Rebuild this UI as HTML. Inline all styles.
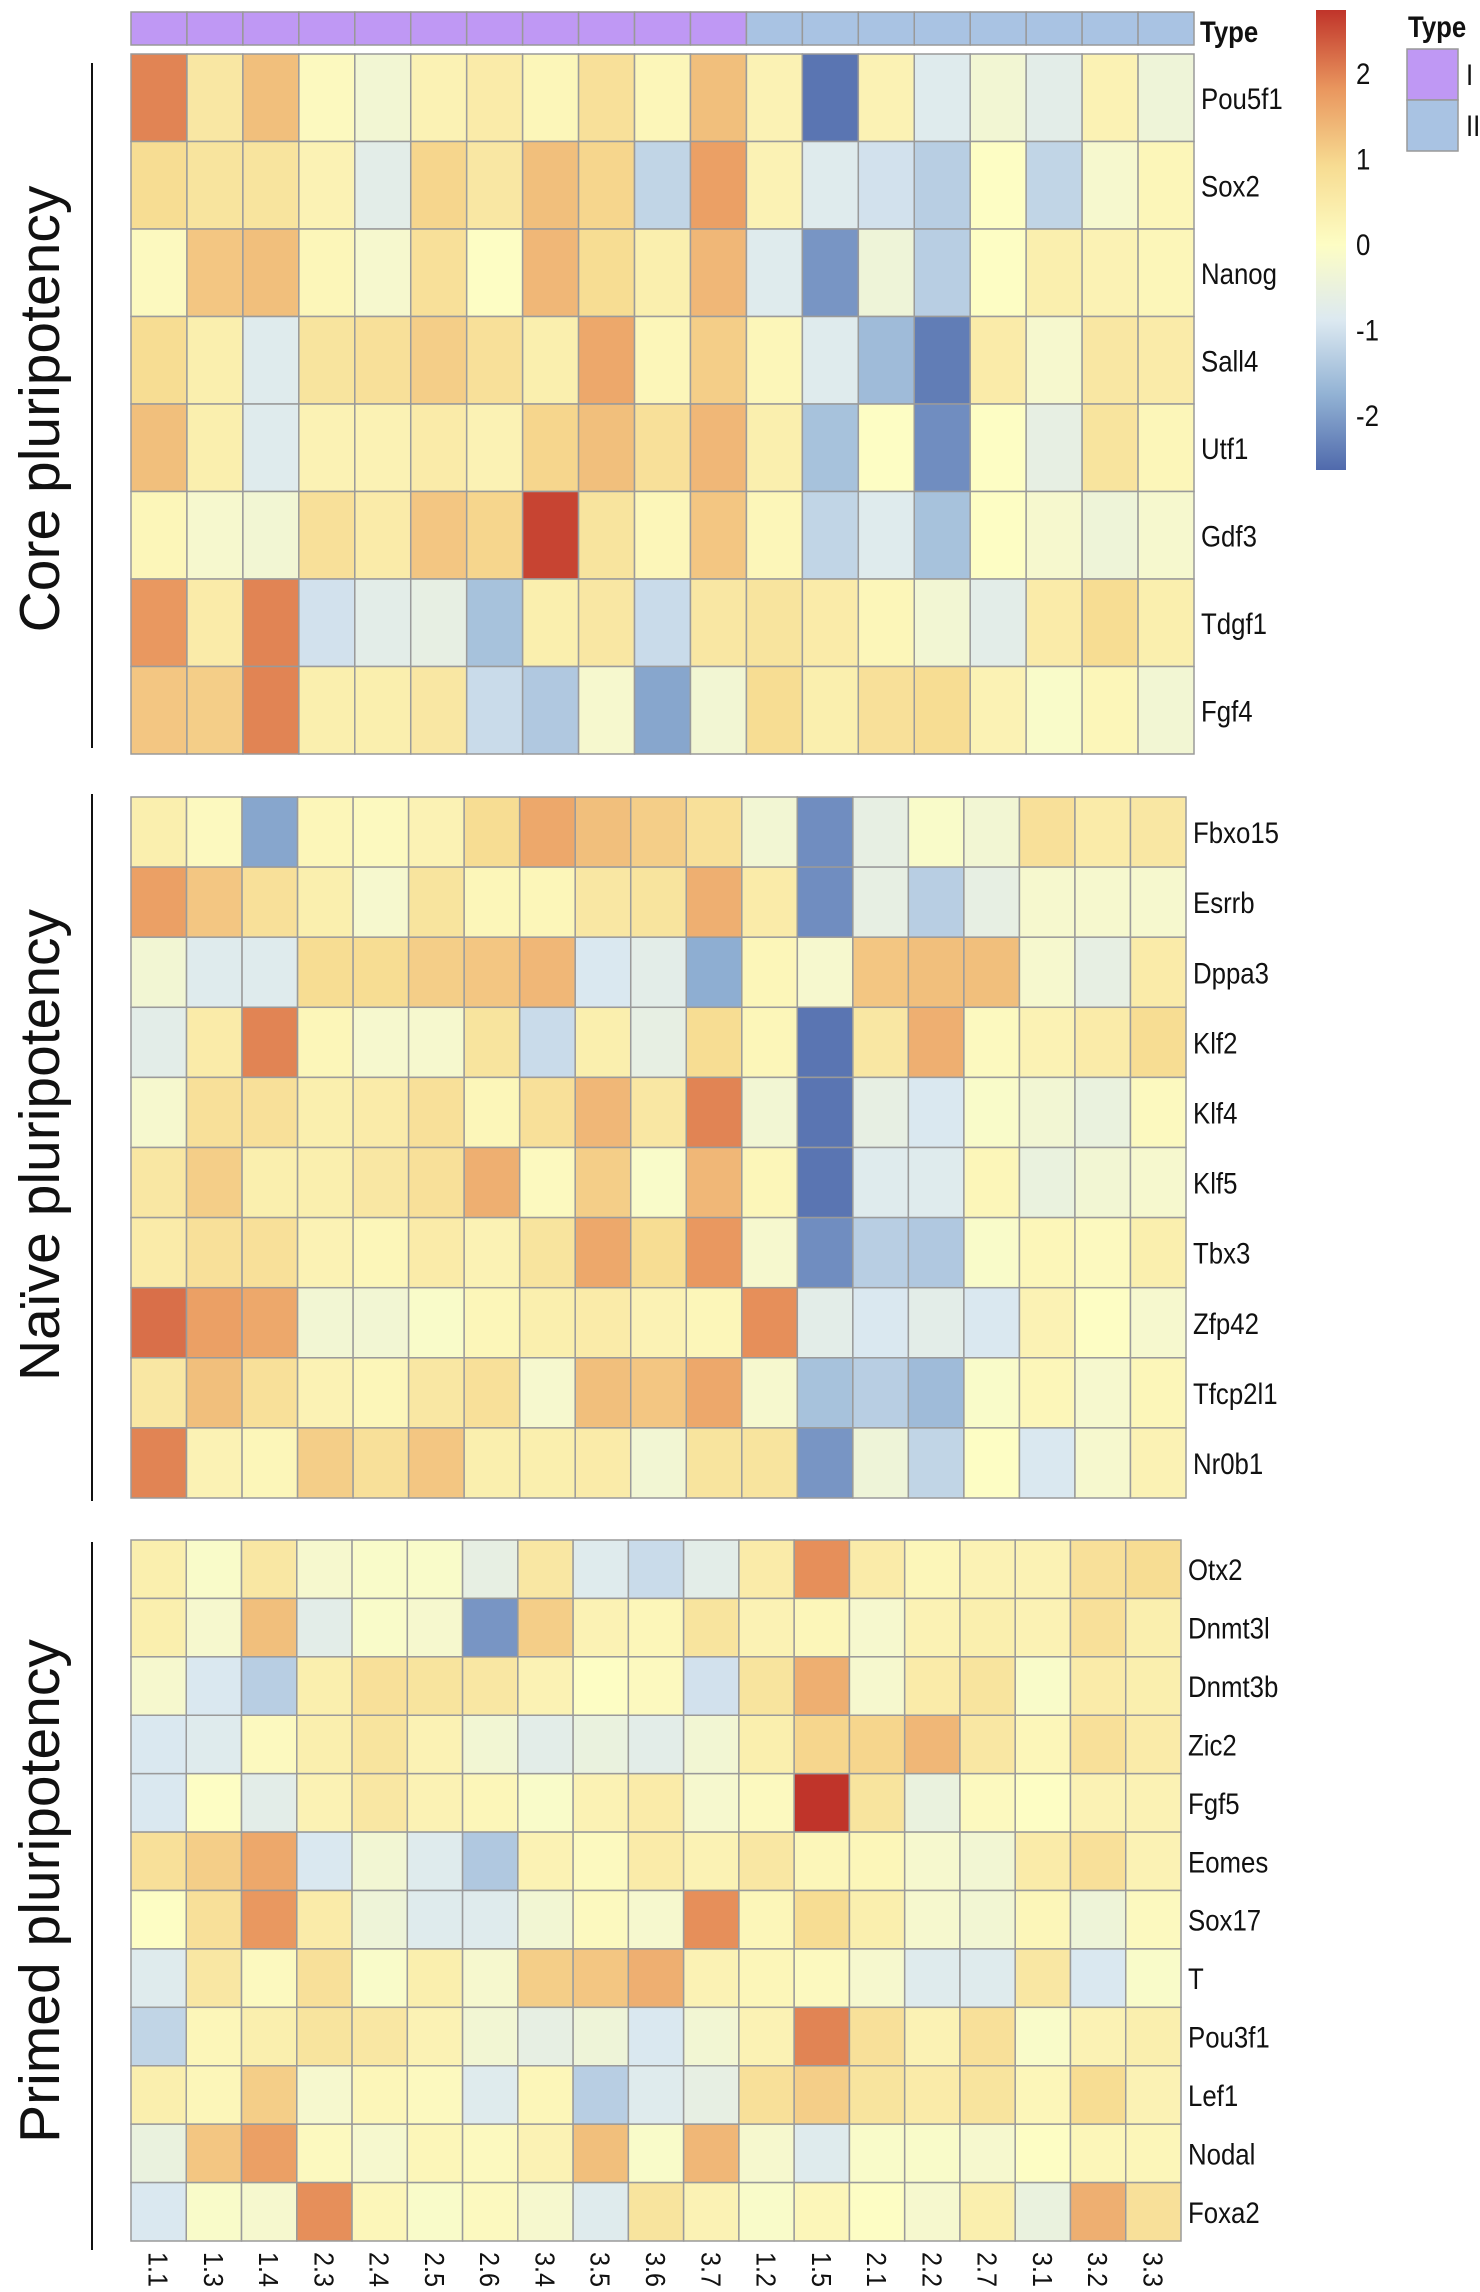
<!DOCTYPE html>
<html><head><meta charset="utf-8"><style>
html,body{margin:0;padding:0;background:#fff;}
svg{display:block;}
</style></head><body>
<svg id="chart" width="1480" height="2292" xmlns="http://www.w3.org/2000/svg"></svg>
<script>
const samples = ["1.1","1.3","1.4","2.3","2.4","2.5","2.6","3.4","3.5","3.6","3.7","1.2","1.5","2.1","2.2","2.7","3.1","3.2","3.3"];
const sampleTypes = ["I","I","I","I","I","I","I","I","I","I","I","II","II","II","II","II","II","II","II"];
const coreGenes = ["Pou5f1","Sox2","Nanog","Sall4","Utf1","Gdf3","Tdgf1","Fgf4"];
const coreValues = [
[2.0,0.6,1.3,0.1,-0.3,0.3,0.5,0.2,0.8,0.2,1.3,0.3,-2.5,0.3,-0.8,-0.3,-0.7,0.3,-0.4],
[0.9,0.7,0.7,0.3,-0.7,1.0,0.6,1.3,1.0,-1.2,1.7,0.3,-0.8,-1.0,-1.3,0.0,-1.2,-0.2,0.2],
[0.1,1.2,1.3,0.2,-0.2,0.8,0.0,1.4,0.9,0.4,1.4,-0.8,-2.1,-0.4,-1.3,0.0,0.4,0.3,0.2],
[0.9,0.4,-0.8,0.7,0.8,1.1,0.8,0.4,1.6,0.2,1.1,0.2,-0.8,-1.6,-2.4,0.5,-0.2,0.6,0.5],
[1.3,0.4,-0.8,0.3,0.3,0.5,0.3,1.0,1.3,0.8,1.4,0.4,-1.5,0.0,-2.2,0.0,-0.6,0.7,0.2],
[0.2,-0.2,-0.3,0.8,0.5,1.2,1.0,2.6,0.7,0.2,1.2,0.2,-1.2,-0.8,-1.5,0.0,-0.2,-0.4,-0.2],
[1.8,0.5,2.0,-1.0,-0.7,-0.6,-1.5,0.4,0.6,-1.1,0.6,0.7,0.5,0.2,-0.3,-0.7,0.5,0.9,0.4],
[1.2,1.1,2.0,0.4,0.4,0.6,-1.1,-1.4,-0.2,-1.9,-0.3,0.9,0.4,0.8,0.9,0.3,-0.1,0.2,-0.3]];
const naiveGenes = ["Fbxo15","Esrrb","Dppa3","Klf2","Klf4","Klf5","Tbx3","Zfp42","Tfcp2l1","Nr0b1"];
const naiveValues = [
[0.4,0.1,-1.9,0.2,0.1,0.3,0.9,1.6,1.3,1.1,0.8,-0.3,-2.2,-0.6,-0.1,-0.3,0.8,0.5,0.6],
[1.7,1.2,0.8,0.4,-0.2,0.7,0.2,0.2,0.6,0.7,1.5,0.5,-2.2,-0.6,-1.3,-0.6,-0.2,-0.2,-0.2],
[-0.3,-0.8,-0.8,0.9,0.9,1.1,1.2,1.4,-0.9,-0.7,-1.8,0.2,-0.2,1.2,1.3,1.3,-0.2,-0.6,0.5],
[-0.7,0.5,2.0,0.2,-0.2,-0.2,0.7,-1.1,0.4,-0.6,0.9,0.2,-2.5,0.6,1.5,0.1,0.3,0.5,0.9],
[-0.2,0.8,0.8,0.4,0.5,0.8,0.2,0.8,1.4,0.6,2.0,-0.3,-2.5,-0.6,-0.9,-0.1,-0.3,-0.5,0.1],
[0.6,1.1,0.4,0.4,0.6,0.8,1.5,0.1,1.1,-0.1,1.4,0.2,-2.5,-0.8,-0.8,0.2,-0.5,-0.3,-0.2],
[0.5,0.8,0.8,0.3,0.2,0.5,0.3,0.7,1.6,0.9,1.8,-0.2,-2.2,-1.3,-1.4,-0.1,0.2,0.1,0.4],
[2.2,1.7,1.6,-0.3,-0.3,-0.1,0.2,0.4,0.5,0.3,0.2,1.9,-0.7,-0.9,-0.7,-0.9,0.3,0.0,-0.2],
[0.6,1.3,0.8,0.3,0.2,0.6,0.8,-0.2,1.3,1.2,1.6,-0.2,-1.5,-1.3,-1.6,-0.1,0.2,-0.2,0.2],
[2.0,0.3,0.2,1.1,0.8,1.2,0.4,0.4,0.5,-0.3,0.7,0.7,-2.1,-0.4,-1.2,0.0,-0.9,-0.2,0.3]];
const primedGenes = ["Otx2","Dnmt3l","Dnmt3b","Zic2","Fgf5","Eomes","Sox17","T","Pou3f1","Lef1","Nodal","Foxa2"];
const primedValues = [
[0.4,-0.1,0.6,-0.2,-0.1,-0.1,-0.6,0.6,-0.8,-1.1,-0.7,0.5,1.9,0.5,0.2,0.3,0.3,0.8,0.9],
[0.4,-0.2,1.3,-0.7,-0.1,-0.2,-2.1,1.1,0.3,0.2,0.7,0.3,0.2,-0.2,0.3,0.4,0.3,0.8,0.4],
[-0.2,-0.9,-1.3,0.4,0.8,0.7,0.6,0.3,0.0,0.1,-1.0,0.7,1.5,-0.2,0.5,0.7,-0.1,0.5,0.4],
[-0.9,-0.8,0.1,0.4,0.7,0.3,-0.3,-0.7,-0.5,-0.7,-0.3,0.4,1.0,1.0,1.4,0.6,0.2,0.8,0.5],
[-0.9,0.0,-0.7,0.3,0.6,0.3,0.2,-0.1,0.3,0.5,-0.2,0.1,2.8,0.7,-0.5,0.1,0.0,0.3,0.3],
[0.8,1.1,1.6,-0.9,-0.3,-0.8,-1.4,0.3,0.1,0.5,0.3,0.6,0.2,0.2,-0.2,-0.3,0.5,0.8,0.3],
[0.0,0.8,1.8,0.5,-0.4,-0.8,-0.8,-0.3,0.1,-0.2,1.9,0.2,0.9,0.4,-0.2,-0.3,0.2,-0.4,0.1],
[-0.8,0.6,0.1,0.8,-0.1,0.4,-0.2,1.1,1.2,1.5,0.3,0.2,0.1,-0.2,-0.8,-0.8,0.6,-0.9,-0.1],
[-1.2,0.2,0.4,0.7,0.6,0.3,-0.3,-0.6,-0.4,-0.9,-0.3,0.3,2.0,0.8,0.3,0.8,-0.1,0.3,0.4],
[0.4,0.2,1.1,-0.2,0.2,0.1,-0.8,0.2,-1.3,-0.8,-0.6,0.8,1.1,0.7,0.5,0.7,0.2,0.9,0.3],
[-0.5,1.2,1.7,0.1,-0.2,0.2,0.1,0.3,1.3,-0.1,1.4,-0.2,-0.8,-0.1,-0.1,-0.2,0.0,0.2,0.2],
[-0.9,-0.1,-0.2,1.9,0.2,-0.1,0.1,-0.2,-0.8,0.7,0.3,-0.1,0.2,0.0,-0.2,0.4,-0.5,1.5,0.8]];
const colorTicks = [2,1,0,-1,-2];

const NS="http://www.w3.org/2000/svg";
const svg=document.getElementById('chart');
function mk(tag,attrs,parent){const e=document.createElementNS(NS,tag);for(const k in attrs)e.setAttribute(k,attrs[k]);(parent||svg).appendChild(e);return e;}
const vmin=-2.63,vmax=2.75;
const stops=[[-2.63,[80,106,172]],[-1.75,[146,178,212]],[-0.88,[220,233,241]],[0,[253,253,196]],[0.92,[247,220,146]],[1.83,[233,150,94]],[2.75,[192,52,42]]];
function color(v){v=Math.max(vmin,Math.min(vmax,v));for(let i=0;i<stops.length-1;i++){const a=stops[i],b=stops[i+1];if(v<=b[0]){const t=(v-a[0])/(b[0]-a[0]);const c=a[1].map((x,j)=>Math.round(x+(b[1][j]-x)*t));return `rgb(${c[0]},${c[1]},${c[2]})`;}}return 'rgb(192,52,42)';}
const FONT='"Liberation Sans Narrow","Liberation Sans",Arial,sans-serif';
const typeColor={"I":"#bf98f4","II":"#a9c3e3"};

const x0=131,x1=1194;
const cwTop=(x1-x0)/samples.length;
samples.forEach((s,i)=>{
  const r=mk('rect',{x:x0+i*cwTop,y:12,width:cwTop,height:33,fill:typeColor[sampleTypes[i]],stroke:'#999','stroke-width':1.5});
  
  
});
const tl=mk('text',{x:0,y:0,transform:'translate(1200,42) scale(0.86,1)','font-family':FONT,'font-size':30,'font-weight':'bold',fill:'#111'});tl.textContent='Type';


function block(name,genes,values,yTop,yBot,xR,label,lineY0,lineY1,labelY){
  const g=mk('g',{});
  
  const cw=(xR-x0)/samples.length, rh=(yBot-yTop)/genes.length;
  values.forEach((row,r)=>{row.forEach((v,c)=>{
    const e=mk('rect',{x:x0+c*cw,y:yTop+r*rh,width:cw,height:rh,fill:color(v),stroke:'#9a9a9a','stroke-width':1.5},g);
    
    
  });});
  genes.forEach((gn,r)=>{
    const t=mk('text',{x:0,y:0,transform:`translate(${xR+7},${yTop+r*rh+rh/2+11}) scale(0.86,1)`,'font-family':FONT,'font-size':30,fill:'#111'},g);
    t.textContent=gn;
    
  });
  const ln=mk('line',{x1:92,x2:92,y1:lineY0,y2:lineY1,stroke:'#111','stroke-width':2},g);
  
  const gl=mk('text',{x:0,y:0,transform:`translate(59,${labelY}) rotate(-90)`,'text-anchor':'middle','font-family':'"Liberation Sans",Arial,sans-serif','font-size':57,fill:'#111'},g);
  gl.textContent=label;
  
  return cw;
}
block('core',coreGenes,coreValues,54,754,1194,'Core pluripotency',63,748,409);
block('naive',naiveGenes,naiveValues,797,1498,1186,'Naïve pluripotency',794,1501,1145);
const cw3=block('primed',primedGenes,primedValues,1540,2241,1181,'Primed pluripotency',1542,2250,1891);

samples.forEach((s,i)=>{
  const cx=x0+i*cw3+cw3/2;
  const t=mk('text',{x:0,y:0,transform:`translate(${cx-10},2252) rotate(90) scale(0.9,1)`,'font-family':FONT,'font-size':28,fill:'#111'});
  t.textContent=s;
  
});

const defs=mk('defs',{});
const grad=mk('linearGradient',{id:'cg',x1:0,y1:0,x2:0,y2:1},defs);
stops.slice().reverse().forEach(s=>{mk('stop',{offset:((vmax-s[0])/(vmax-vmin)),'stop-color':`rgb(${s[1].join(',')})`},grad);});
const cb=mk('rect',{x:1316,y:10,width:30,height:460,fill:'url(#cg)'});

const cbY=v=>10+(vmax-v)/(vmax-vmin)*460;
colorTicks.forEach(v=>{
  const t=mk('text',{x:0,y:0,transform:`translate(1356,${cbY(v)+10}) scale(0.86,1)`,'font-family':FONT,'font-size':30,fill:'#111'});
  t.textContent=String(v);
  
});
const lt=mk('text',{x:0,y:0,transform:'translate(1408,37) scale(0.86,1)','font-family':FONT,'font-size':30,'font-weight':'bold',fill:'#111'});lt.textContent='Type';

["I","II"].forEach((k,i)=>{
  const r=mk('rect',{x:1407,y:49+i*51,width:51,height:51,fill:typeColor[k],stroke:'#999','stroke-width':1.5});
  
  const t=mk('text',{x:0,y:0,transform:`translate(1466,${49+i*51+36}) scale(0.86,1)`,'font-family':FONT,'font-size':30,fill:'#111'});t.textContent=k;
  
});
</script>
</body></html>
